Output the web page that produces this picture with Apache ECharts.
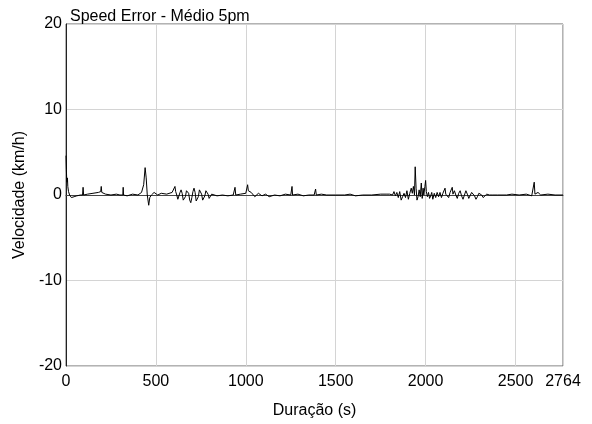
<!DOCTYPE html>
<html>
<head>
<meta charset="utf-8">
<script src="https://cdn.jsdelivr.net/npm/echarts@6/dist/echarts.min.js"></script>
<style>html,body{margin:0;padding:0;background:#fff}#c{width:592px;height:424px}</style>
</head>
<body>
<div id="c"></div>
<script>
var titleText = 'Speed Error - Médio 5pm';
var xName = 'Duração (s)';
var yName = 'Velocidade (km/h)';
var xMax = 2764;
var yTicks = [-20, -10, 0, 10, 20];

var times = [0,2,4,6,8,10,14,20,30,45,60,80,92,95,98,120,150,180,193,196,199,220,250,280,300,316,318,320,340,370,400,420,432,440,446,452,460,466,475,490,510,530,560,590,
600,606,610,616,622,628,634,640,646,652,658,664,670,676,682,688,694,700,706,712,718,724,730,736,742,748,754,760,766,772,778,784,790,796,802,810,818,
840,870,900,930,940,944,970,1000,1010,1014,1030,1050,1070,1090,1110,1130,1160,1190,1220,1250,1257,1260,1290,1320,1350,1380,1388,1392,1420,1450,1500,1550,1580,1610,1650,1700,1750,1780,
1800,1808,1816,1824,1832,1840,1848,1856,1864,1872,1880,1888,1896,1904,1912,1920,1926,1932,1938,1942,1947,1952,1958,1964,1970,1976,1981,1986,1990,1996,2000,2004,2010,2016,2022,2028,2034,2040,2048,2056,2064,2072,2080,2088,2096,2104,2108,2112,2120,2128,2136,2144,2148,2152,2160,2168,2176,2184,2192,2200,2208,2216,2224,2232,2240,2248,2256,2264,2272,2280,2288,2296,2304,2312,2320,2330,2340,2355,
2370,2400,2450,2480,2520,2560,2590,2600,2604,2608,2625,2640,2680,2720,2764];
var errors = [4.6,3.0,1.8,1.5,2.0,1.0,0.4,0.0,-0.3,-0.2,-0.1,0.0,0.0,0.9,0.0,0.1,0.2,0.3,0.4,1.0,0.3,0.1,0.0,0.1,0.0,0.0,0.9,0.0,-0.1,0.1,0.0,0.3,1.2,3.2,2.0,0.0,-1.2,-0.3,0.0,0.3,0.0,0.2,0.1,0.3,
0.2,1.0,0.4,0.0,-0.5,-0.3,0.3,0.6,0.2,-0.6,-0.8,-0.2,0.5,0.7,0.2,-0.6,-0.9,-0.3,0.4,0.8,0.3,-0.7,-0.9,-0.2,0.6,0.8,0.1,-0.6,-0.8,-0.1,0.5,0.6,0.1,-0.4,-0.3,0.1,0.1,
-0.1,0.0,-0.1,0.0,0.9,0.0,0.1,0.2,1.2,0.5,0.3,-0.2,0.2,-0.1,0.1,-0.2,0.0,-0.1,0.1,0.0,1.0,0.0,0.1,-0.1,0.0,0.0,0.7,0.0,0.1,0.0,0.0,0.0,0.1,-0.1,0.0,0.0,0.1,0.1,
0.1,0.3,0.0,0.4,-0.1,0.3,-0.3,0.4,-0.6,-0.2,0.2,-0.3,0.5,-0.5,0.2,0.8,0.2,1.0,0.0,3.3,0.8,-0.6,-0.2,0.6,-0.2,1.4,-0.4,0.8,0.0,1.0,1.7,0.4,-0.2,0.3,-0.4,-0.1,0.3,-0.5,0.2,-0.3,0.3,-0.2,0.3,-0.3,0.2,0.1,0.8,0.1,0.2,-0.3,0.3,0.1,0.9,0.1,0.5,0.0,-0.4,0.2,0.5,-0.1,-0.5,0.0,0.5,0.1,-0.4,-0.2,0.3,0.4,-0.1,-0.5,-0.2,0.2,0.3,0.0,-0.3,-0.1,0.1,0.0,
0.0,0.0,0.0,0.1,0.0,0.1,-0.1,0.0,1.5,0.1,0.3,0.0,0.1,0.0,0.0];

var pts = times.map(function (t, i) { return [t, errors[i]]; });
var font = 'Liberation Sans, Arial, sans-serif';

var chart = echarts.init(document.getElementById('c'), null, {renderer: 'canvas'});
chart.setOption({
  animation: false,
  backgroundColor: '#fff',
  title: {text: titleText, left: 65, top: 4, textStyle: {fontFamily: font, fontSize: 16, fontWeight: 'normal', color: '#000'}},
  grid: {left: 66, right: 29, top: 24, bottom: 57, show: true, borderColor: '#666', borderWidth: 1, containLabel: false},
  xAxis: {
    type: 'value', min: 0, max: xMax, interval: 500,
    name: xName, nameLocation: 'middle', nameGap: 37,
    nameTextStyle: {fontFamily: font, fontSize: 16, color: '#000'},
    axisLine: {show: true, lineStyle: {color: '#444'}},
    axisTick: {show: false},
    axisLabel: {fontFamily: font, fontSize: 16, color: '#000', margin: 8, showMaxLabel: true, showMinLabel: true, hideOverlap: false,
      formatter: function (v) { return String(Math.round(v)); }},
    splitLine: {show: true, lineStyle: {color: '#d4d4d4', width: 1}}
  },
  yAxis: {
    type: 'value', min: yTicks[0], max: yTicks[yTicks.length - 1], interval: 10,
    name: yName, nameLocation: 'middle', nameGap: 33,
    nameTextStyle: {fontFamily: font, fontSize: 16, color: '#000'},
    axisLine: {show: true, lineStyle: {color: '#222'}},
    axisTick: {show: false},
    axisLabel: {fontFamily: font, fontSize: 16, color: '#000', margin: 4},
    splitLine: {show: true, lineStyle: {color: '#d4d4d4', width: 1}}
  },
  series: [{
    type: 'line', data: pts, showSymbol: false, symbol: 'none',
    lineStyle: {color: '#000', width: 1}, z: 3
  }]
});
</script>
</body>
</html>
